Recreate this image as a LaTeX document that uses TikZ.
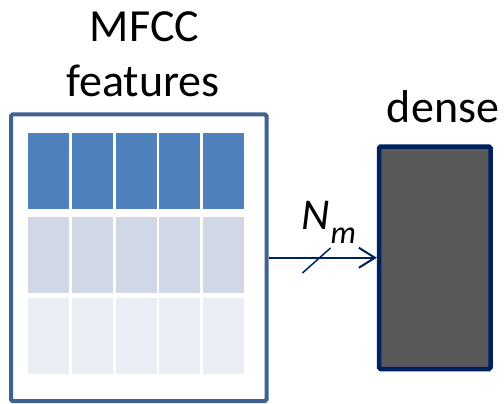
\documentclass[tikz,border=0pt]{standalone}
\usepackage{fontspec}
\setmainfont{Carlito}
\usetikzlibrary{arrows.meta,positioning,calc}

\definecolor{framecol}{RGB}{64,98,142}
\definecolor{navy}{RGB}{0,32,96}
\definecolor{rowA}{RGB}{79,129,189}
\definecolor{rowB}{RGB}{208,216,232}
\definecolor{rowC}{RGB}{233,237,244}
\definecolor{densefill}{RGB}{89,89,89}

\begin{document}
\begin{tikzpicture}
[x=1pt,y=-1pt,
    frame/.style={draw=framecol,line width=4pt,rounded corners=1.5pt,fill=white,inner sep=0pt},
    cell/.style={draw=white,line width=1pt,inner sep=0pt,minimum width=42pt,minimum height=77pt},
    layer/.style={draw=navy,fill=densefill,line width=4.5pt,rounded corners=1.5pt,inner sep=0pt},
    title/.style={font=\fontsize{46}{55}\selectfont,anchor=base},
    conn/.style={draw=navy,line width=2pt,-{Straight Barb[length=16pt,width=20pt,line width=2pt]}}]
\useasboundingbox (0,0) rectangle (504,404);
%%%%% input block
\node (mfcc) [frame,minimum width=255.5pt,minimum height=286.5pt] at (138.75,257.75) {};
\foreach \r/\y/\c in {1/171/rowA,2/255/rowB,3/335.5/rowC}
  \foreach \k in {0,...,4}
    \node (c\r\k) [cell,fill=\c] at ({48.5+43.75*\k},\y) {};
\node (tmfcc) [title] at (144.5,42) {MFCC};
\node (tfeat) [title] at (143,97) {features};
%%%%% dense layer
\node (dense) [layer,minimum width=111.5pt,minimum height=222.5pt] at (434.75,257.75) {};
\node (tdense) [title] at (443,122) {dense};
%% connection
\draw[conn] (mfcc.east) -- (mfcc.east-|dense.west);
\coordinate (tick) at (316.5,260.5);
\draw[draw=navy,line width=1.5pt] (tick) +(-14,12.5) -- +(14,-12.5);
\node (nm) [anchor=base west,inner sep=0pt,font=\fontsize{44}{44}\selectfont\itshape] at (301,229)
  {N\kern1pt\raisebox{-14pt}{\fontsize{32}{32}\selectfont m}};
\end{tikzpicture}
\end{document}
